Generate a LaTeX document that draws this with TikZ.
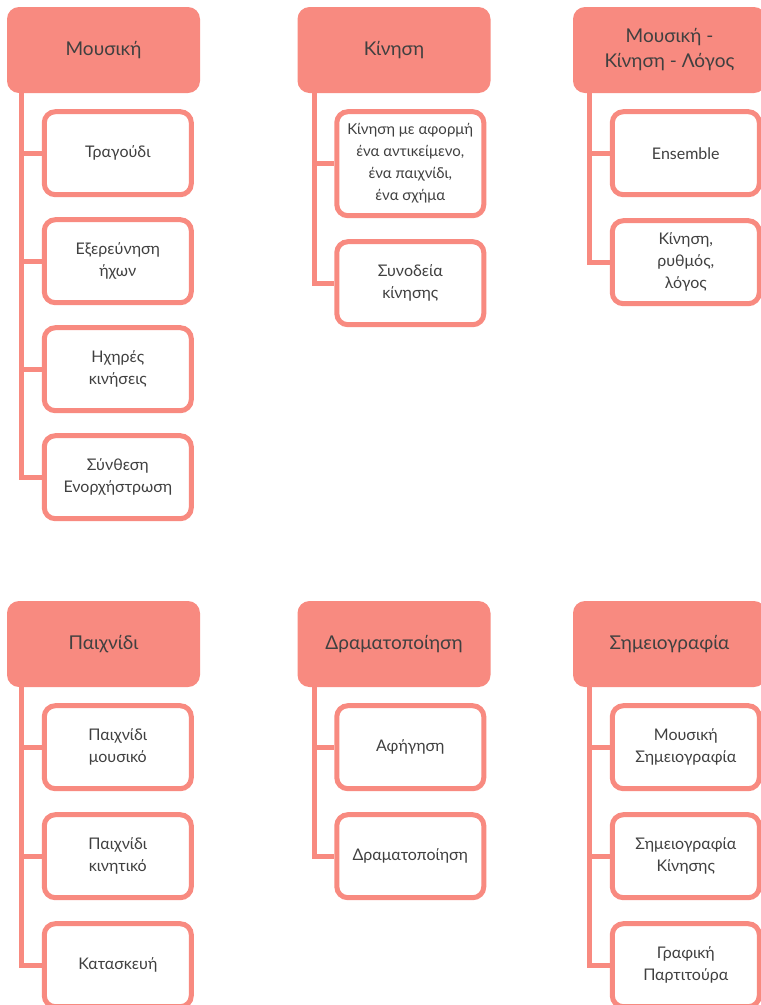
\documentclass[tikz,border=0pt]{standalone}
\usepackage{fontspec}
\setmainfont{Lato}
\usetikzlibrary{calc}
\usetikzlibrary{positioning}
\definecolor{salmon}{RGB}{248,138,128}
\definecolor{inktext}{RGB}{64,64,64}

\begin{document}
\begin{tikzpicture}[x=1pt, y=-1pt, text=inktext, font=\fontsize{16}{22}\selectfont]
\tikzstyle{head}=[rectangle, rounded corners=12pt, fill=salmon, draw=none, minimum width=193pt, minimum height=86pt, inner sep=0pt, align=center, font=\fontsize{19}{25}\selectfont]
\tikzstyle{item}=[rectangle, rounded corners=11pt, draw=salmon, line width=5pt, fill=white, minimum width=147pt, minimum height=83pt, inner sep=0pt, align=center]
\tikzstyle{stem}=[draw=salmon, line width=5pt]

\useasboundingbox (0,0) rectangle (761,1005);
\clip (0,0) rectangle (761,1005);

% first row
\node[head] (music) at (103.5,50) {Μουσική};
\node[item, below right=16pt and 35pt of music.south west] (song) {Τραγούδι};
\node[item, below=20pt of song] (explore) {Εξερεύνηση\\ήχων};
\node[item, below=20pt of explore] (sounds) {Ηχηρές\\κινήσεις};
\node[item, below=20pt of sounds] (compose) {Σύνθεση\\Ενορχήστρωση};

\node[head] (move) at (394,50) {Κίνηση};
\node[item, below right=16pt and 37pt of move.south west, minimum height=104pt, font=\fontsize{15}{22}\selectfont] (object) {Κίνηση με αφορμή\\ένα αντικείμενο,\\ένα παιχνίδι,\\ένα σχήμα};
\node[item, below=21pt of object] (accomp) {Συνοδεία\\κίνησης};

\node[head] (mml) at (669.5,50) {Μουσική -\\Κίνηση - Λόγος};
\node[item, below right=16pt and 37pt of mml.south west] (ensemble) {Ensemble};
\node[item, below=21pt of ensemble] (rhythm) {Κίνηση,\\ρυθμός,\\λόγος};

% second row
\node[head] (play) at (103.5,644) {Παιχνίδι};
\node[item, below right=16pt and 35pt of play.south west] (musplay) {Παιχνίδι\\μουσικό};
\node[item, below=21pt of musplay] (movplay) {Παιχνίδι\\κινητικό};
\node[item, below=21pt of movplay] (build) {Κατασκευή};

\node[head] (drama) at (394,644) {Δραματοποίηση};
\node[item, below right=16pt and 37pt of drama.south west] (story) {Αφήγηση};
\node[item, below=21pt of story] (acting) {Δραματοποίηση};

\node[head] (notation) at (669.5,644) {Σημειογραφία};
\node[item, below right=16pt and 37pt of notation.south west] (musnot) {Μουσική\\Σημειογραφία};
\node[item, below=21pt of musnot] (movnot) {Σημειογραφία\\Κίνησης};
\node[item, below=21pt of movnot] (score) {Γραφική\\Παρτιτούρα};

% stems
\foreach \c in {song,explore,sounds,compose}
  \draw[stem] ($(music.south west)+(15pt,0)$) |- (\c.west);
\foreach \c in {object,accomp}
  \draw[stem] ($(move.south west)+(17pt,0)$) |- (\c.west);
\foreach \c in {ensemble,rhythm}
  \draw[stem] ($(mml.south west)+(17pt,0)$) |- (\c.west);
\foreach \c in {musplay,movplay,build}
  \draw[stem] ($(play.south west)+(15pt,0)$) |- (\c.west);
\foreach \c in {story,acting}
  \draw[stem] ($(drama.south west)+(17pt,0)$) |- (\c.west);
\foreach \c in {musnot,movnot,score}
  \draw[stem] ($(notation.south west)+(17pt,0)$) |- (\c.west);
\end{tikzpicture}
\end{document}
